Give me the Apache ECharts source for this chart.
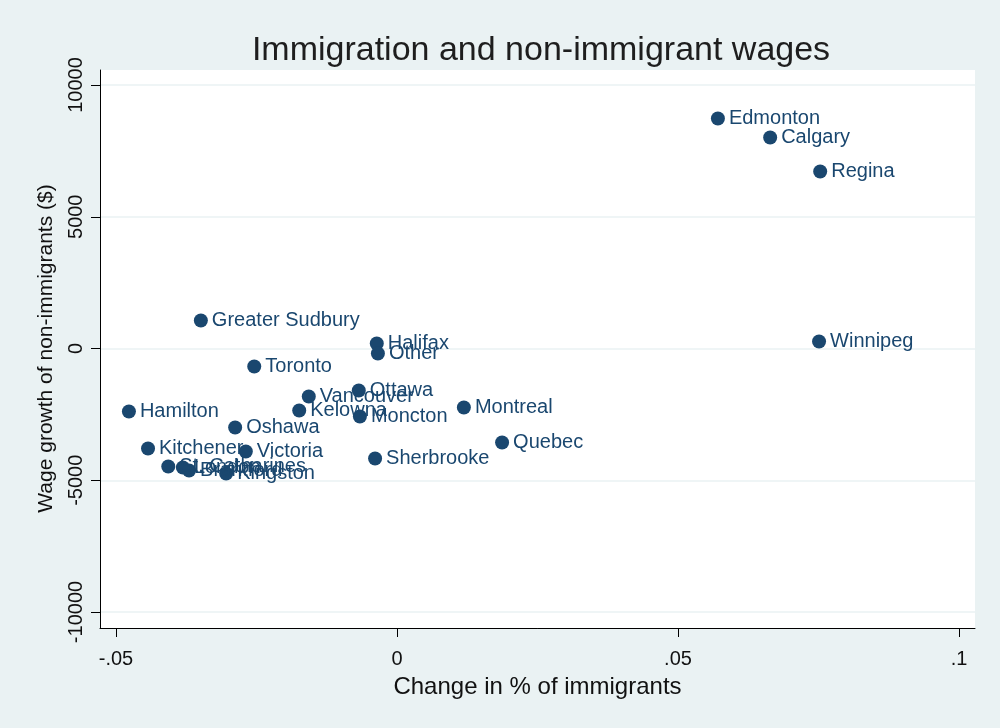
<!DOCTYPE html>
<html>
<head>
<meta charset="utf-8">
<script src="https://cdn.jsdelivr.net/npm/echarts@6/dist/echarts.min.js"></script>
<style>
html,body{margin:0;padding:0;background:#EAF2F3;}
#chart{width:1000px;height:728px;}
</style>
</head>
<body>
<div id="chart"></div>
<script>
const cities = ["Edmonton","Calgary","Regina","Winnipeg","Greater Sudbury","Halifax","Other","Toronto","Ottawa","Vancouver","Kelowna","Moncton","Montreal","Hamilton","Oshawa","Quebec","Kitchener","Victoria","Sherbrooke","St. Catharines","London","Brantford","Kingston","Windsor"];
const changeImm = [0.0571,0.0664,0.0753,0.0751,-0.0349,-0.0036,-0.0034,-0.0254,-0.0068,-0.0157,-0.0174,-0.0066,0.0119,-0.0477,-0.0288,0.0187,-0.0443,-0.0269,-0.0039,-0.0407,-0.0381,-0.0370,-0.0304,-0.0502];
const wageGrowth = [8729,8007,6717,266,1063,190,-190,-683,-1594,-1822,-2353,-2581,-2239,-2391,-2998,-3567,-3795,-3909,-4175,-4478,-4516,-4630,-4744,-7362];
const xTicks = [-0.05,0,0.05,0.1];
const yTicks = [-10000,-5000,0,5000,10000];

const navy = '#1A476F';
const fontFam = '"Liberation Sans", Arial, sans-serif';
const pts = cities.map((c,i)=>({name:c, value:[changeImm[i], wageGrowth[i]]}));
function fmtX(v){
  if (Math.abs(v) < 1e-12) return '0';
  let s = String(Math.abs(+v.toFixed(4))).replace(/^0/, '');
  return (v < 0 ? '-' : '') + s;
}
const chart = echarts.init(document.getElementById('chart'));
chart.setOption({
  backgroundColor: '#EAF2F3',
  animation: false,
  title: {
    text: 'Immigration and non-immigrant wages',
    left: 536, top: 29, textAlign: 'center',
    textStyle: {fontFamily: fontFam, fontSize: 34, fontWeight: 'normal', color: '#1e1e1e'}
  },
  grid: [
    {left: 100, right: 25, top: 70, bottom: 100, show: true, backgroundColor: '#ffffff', borderWidth: 0},
    {left: 100, right: 25, top: 85, bottom: 116, show: false},
    {left: 116, right: 41, top: 85, bottom: 116, show: false}
  ],
  xAxis: [
    {gridIndex: 0, type: 'value', min: 0, max: 1, axisLine: {show: true, onZero: false, lineStyle: {color: '#000', width: 1}}, axisTick: {show: false}, axisLabel: {show: false}, splitLine: {show: false}},
    {gridIndex: 1, type: 'value', min: 0, max: 1, show: false},
    {gridIndex: 2, type: 'value', min: xTicks[0], max: xTicks[xTicks.length-1], interval: 0.05, offset: 16,
     axisLine: {show: true, onZero: false, lineStyle: {color: '#000', width: 1}}, axisTick: {show: true, length: 9, lineStyle: {color: '#000'}},
     axisLabel: {formatter: fmtX, margin: 21, fontFamily: fontFam, fontSize: 20, color: '#111'},
     splitLine: {show: false},
     name: 'Change in % of immigrants', nameLocation: 'middle', nameGap: 47,
     nameTextStyle: {fontFamily: fontFam, fontSize: 24, color: '#111'}}
  ],
  yAxis: [
    {gridIndex: 0, type: 'value', min: 0, max: 1, axisLine: {show: true, onZero: false, lineStyle: {color: '#000', width: 1}}, axisTick: {show: false}, axisLabel: {show: false}, splitLine: {show: false}},
    {gridIndex: 1, type: 'value', min: yTicks[0], max: yTicks[yTicks.length-1], interval: 5000,
     axisLine: {show: false}, axisTick: {show: false}, axisLabel: {show: false},
     splitLine: {show: true, lineStyle: {color: '#EAF2F3', width: 1.5}}},
    {gridIndex: 2, type: 'value', min: yTicks[0], max: yTicks[yTicks.length-1], interval: 5000, offset: 16,
     axisLine: {show: true, onZero: false, lineStyle: {color: '#000', width: 1}}, axisTick: {show: true, length: 9, lineStyle: {color: '#000'}},
     axisLabel: {rotate: 90, margin: 14, formatter: v => String(v), fontFamily: fontFam, fontSize: 20, color: '#111'},
     splitLine: {show: false},
     name: 'Wage growth of non-immigrants ($)', nameLocation: 'middle', nameGap: 43, nameRotate: 90,
     nameTextStyle: {fontFamily: fontFam, fontSize: 21, color: '#111'}}
  ],
  series: [{
    type: 'scatter', xAxisIndex: 2, yAxisIndex: 2,
    symbolSize: 14,
    itemStyle: {color: navy, opacity: 1},
    label: {show: true, position: 'right', distance: 4, formatter: '{b}', fontFamily: fontFam, fontSize: 20, color: navy},
    data: pts
  }]
});
</script>
</body>
</html>
